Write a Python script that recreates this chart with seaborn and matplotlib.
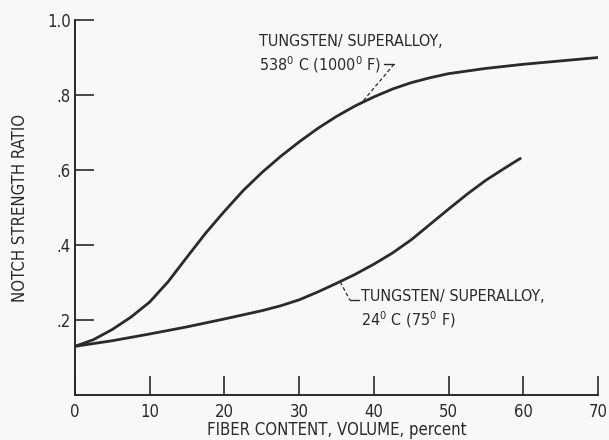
import matplotlib
matplotlib.use("Agg")
import matplotlib.pyplot as plt
from matplotlib import font_manager
import seaborn as sns
import pandas as pd

# Fiber content (volume percent) and notch strength ratio for each test temperature
fiber_hot = [0, 2.5, 5, 7.5, 10, 12.5, 15, 17.5, 20, 22.5, 25, 27.5, 30, 32.5, 35, 37.5,
             40, 42.5, 45, 47.5, 50, 55, 60, 65, 70]
ratio_hot = [0.13, 0.148, 0.175, 0.208, 0.248, 0.303, 0.368, 0.432, 0.49, 0.545, 0.593, 0.636,
             0.675, 0.711, 0.743, 0.771, 0.795, 0.816, 0.833, 0.846, 0.857, 0.871, 0.882, 0.891, 0.90]

fiber_room = [0, 5, 10, 15, 20, 25, 27.5, 30, 32.5, 35, 37.5, 40, 42.5, 45, 47.5, 50, 52.5,
              55, 57.5, 59.6]
ratio_room = [0.13, 0.145, 0.163, 0.182, 0.203, 0.225, 0.238, 0.254, 0.275, 0.298, 0.322, 0.349,
              0.379, 0.414, 0.455, 0.496, 0.536, 0.573, 0.605, 0.631]

x_ticks = [0, 10, 20, 30, 40, 50, 60, 70]
y_ticks = [0.2, 0.4, 0.6, 0.8, 1.0]
y_tick_labels = [".2", ".4", ".6", ".8", "1.0"]

label_hot = "TUNGSTEN/ SUPERALLOY,\n538$^{0}$ C (1000$^{0}$ F)"
label_room = "TUNGSTEN/ SUPERALLOY,\n24$^{0}$ C (75$^{0}$ F)"

sns.set_style("ticks")

# Prefer a narrow sans face for the lettering
installed = {f.name for f in font_manager.fontManager.ttflist}
if "Liberation Sans Narrow" in installed:
    face, stretch = "Liberation Sans Narrow", "normal"
else:
    face, stretch = "DejaVu Sans", "condensed"
plt.rcParams["font.family"] = [face, "DejaVu Sans"]
plt.rcParams["font.stretch"] = stretch
plt.rcParams["mathtext.fontset"] = "custom"
plt.rcParams["mathtext.rm"] = face

ink = "#2a2a2a"
bg = "#f8f8f8"

df = pd.concat([
    pd.DataFrame({"fiber": fiber_hot, "ratio": ratio_hot, "series": "hot"}),
    pd.DataFrame({"fiber": fiber_room, "ratio": ratio_room, "series": "room"}),
])

fig = plt.figure(figsize=(6.09, 4.40), dpi=100, facecolor=bg)
ax = fig.add_axes([0.123, 0.102, 0.859, 0.8525])
ax.set_facecolor(bg)

sns.lineplot(data=df, x="fiber", y="ratio", units="series", estimator=None,
             color=ink, linewidth=2.0, ax=ax, legend=False, sort=True)

ax.set_xlim(0, 70)
ax.set_ylim(0, 1.0)
ax.set_xticks(x_ticks)
ax.set_yticks(y_ticks)
ax.set_yticklabels(y_tick_labels)

for side in ("top", "right"):
    ax.spines[side].set_visible(False)
for side in ("left", "bottom"):
    ax.spines[side].set_color(ink)
    ax.spines[side].set_linewidth(1.4)

ax.tick_params(axis="both", direction="in", length=14, width=1.2, color=ink,
               labelcolor=ink, labelsize=12)
ax.tick_params(axis="x", pad=6)
ax.tick_params(axis="y", pad=3)

ax.set_xlabel("FIBER CONTENT, VOLUME, percent", fontsize=12, color=ink, labelpad=0)
ax.set_ylabel("NOTCH STRENGTH RATIO", fontsize=12, color=ink, labelpad=13)

# Curve labels with leader lines
ax.text(24.6, 0.962, label_hot, fontsize=11.5, color=ink, va="top", ha="left", linespacing=1.3)
ax.plot([41.4, 42.7], [0.882, 0.882], color=ink, lw=1.0)
ax.plot([42.7, 38.55], [0.882, 0.784], color=ink, lw=0.9, ls=(0, (3, 2)))

ax.text(38.3, 0.282, label_room, fontsize=11.5, color=ink, va="top", ha="left", linespacing=1.3)
ax.plot([35.5, 36.8], [0.302, 0.253], color=ink, lw=0.9, ls=(0, (3, 2)))
ax.plot([36.8, 38.0], [0.253, 0.253], color=ink, lw=1.0)

fig.savefig("out.png", dpi=100, facecolor=bg)
